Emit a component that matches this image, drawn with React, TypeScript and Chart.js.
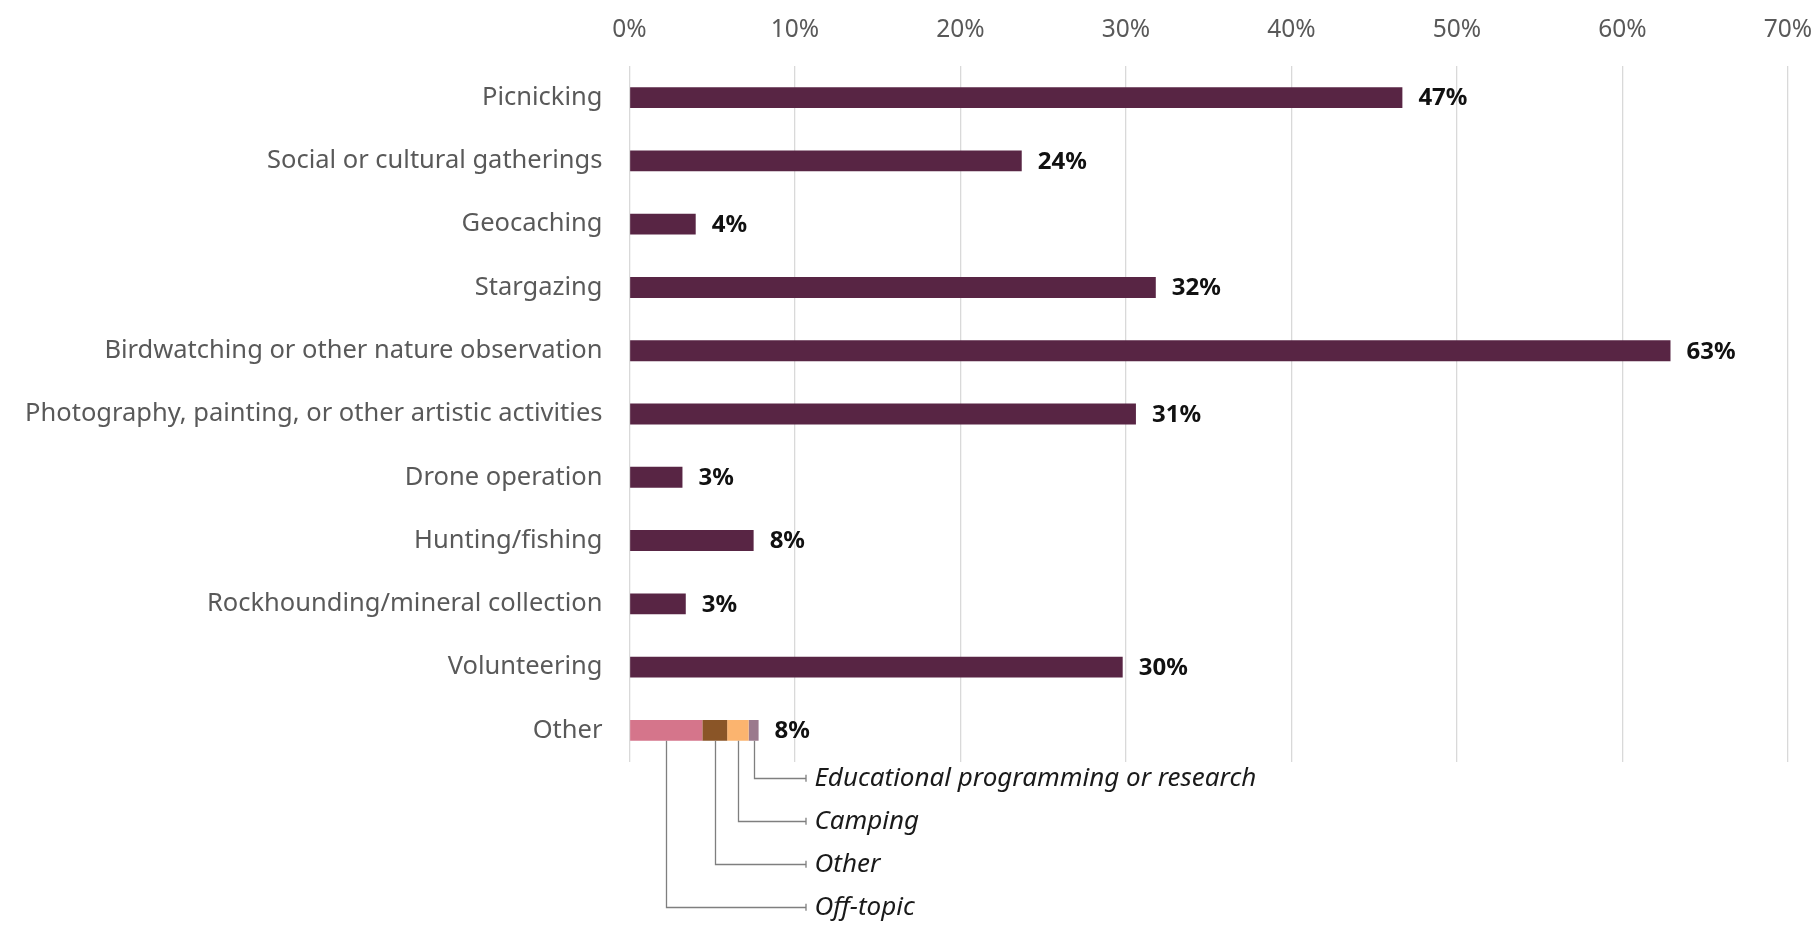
import React, { useEffect, useRef } from "react";
import { Chart, registerables } from "chart.js";

Chart.register(...registerables);

const categories = [
  "Picnicking",
  "Social or cultural gatherings",
  "Geocaching",
  "Stargazing",
  "Birdwatching or other nature observation",
  "Photography, painting, or other artistic activities",
  "Drone operation",
  "Hunting/fishing",
  "Rockhounding/mineral collection",
  "Volunteering",
  "Other",
];

// main series (percent); the "Other" row is broken down below
const mainValues: (number | null)[] = [46.7, 23.7, 4.0, 31.8, 62.9, 30.6, 3.2, 7.5, 3.4, 29.8, null];

const otherBreakdownNames = ["Off-topic", "Other", "Camping", "Educational programming or research"];
const otherBreakdownValues = [4.4, 1.5, 1.3, 0.6];
const otherBreakdownColors = ["#D5758B", "#8A5527", "#FBB46F", "#9B7A8D"];

const xTicks = [0, 10, 20, 30, 40, 50, 60, 70];

const MAIN_COLOR = "#582544";
const FONT = "'Noto Sans', 'Open Sans', sans-serif";

export default function App() {
  const ref = useRef<HTMLCanvasElement | null>(null);

  useEffect(() => {
    if (!ref.current) return;
    const otherIdx = categories.length - 1;

    const datasets: any[] = [
      {
        label: "Share",
        data: mainValues,
        backgroundColor: MAIN_COLOR,
        barPercentage: 0.33,
        categoryPercentage: 1,
      },
      ...otherBreakdownNames.map((name, i) => ({
        label: name,
        data: categories.map((_, j) => (j === otherIdx ? otherBreakdownValues[i] : null)),
        backgroundColor: otherBreakdownColors[i],
        barPercentage: 0.33,
        categoryPercentage: 1,
      })),
    ];

    const valueLabelPlugin = {
      id: "valueLabels",
      afterDatasetsDraw(chart: any) {
        const ctx = chart.ctx;
        const xs = chart.scales.x;
        const ys = chart.scales.y;
        ctx.save();
        ctx.font = `bold 24px ${FONT}`;
        ctx.fillStyle = "#111111";
        ctx.textAlign = "left";
        ctx.textBaseline = "middle";
        categories.forEach((_, j) => {
          let total = 0;
          chart.data.datasets.forEach((ds: any) => {
            const v = ds.data[j];
            if (v != null) total += v;
          });
          const x = xs.getPixelForValue(total) + 16;
          const y = ys.getPixelForValue(j) + 1;
          ctx.fillText(`${Math.round(total)}%`, x, y);
        });

        // leader-line annotations for the Other breakdown
        const rowGap = 43;
        const firstOffset = 37;
        const endX = chart.chartArea.left + 176;
        ctx.strokeStyle = "#7F7F7F";
        ctx.lineWidth = 1.3;
        ctx.font = `italic 26px ${FONT}`;
        ctx.fillStyle = "#1A1A1A";
        const n = otherBreakdownNames.length;
        for (let i = 0; i < n; i++) {
          const meta = chart.getDatasetMeta(i + 1);
          const el = meta.data[otherIdx];
          if (!el) continue;
          const cx = (el.x + el.base) / 2;
          const bottom = el.y + el.height / 2;
          const rank = n - 1 - i;
          const ly = bottom + firstOffset + rank * rowGap;
          ctx.beginPath();
          ctx.moveTo(Math.round(cx) + 0.5, bottom);
          ctx.lineTo(Math.round(cx) + 0.5, Math.round(ly) + 0.5);
          ctx.lineTo(endX, Math.round(ly) + 0.5);
          ctx.moveTo(endX + 0.5, ly - 3);
          ctx.lineTo(endX + 0.5, ly + 4);
          ctx.stroke();
          ctx.fillText(otherBreakdownNames[i], endX + 9, ly + 1);
        }
        ctx.restore();
      },
    };

    const chart = new Chart(ref.current, {
      type: "bar",
      data: { labels: categories, datasets },
      plugins: [valueLabelPlugin],
      options: {
        indexAxis: "y",
        animation: false,
        responsive: false,
        maintainAspectRatio: false,
        layout: { padding: { top: 0, left: 0, right: 23, bottom: 172 } },
        plugins: { legend: { display: false }, tooltip: { enabled: false } },
        scales: {
          x: {
            position: "top",
            stacked: true,
            min: 0,
            max: 70,
            afterBuildTicks(scale: any) {
              scale.ticks = xTicks.map((v) => ({ value: v }));
            },
            afterFit(scale: any) {
              scale.height = 66;
              scale.paddingLeft = 0;
              scale.paddingRight = 0;
            },
            grid: { color: "#D9D9D9", lineWidth: 1.3, drawTicks: false },
            border: { display: false },
            ticks: {
              padding: 21,
              color: "#595959",
              font: { family: FONT, size: 24.5 },
              callback: (v: any) => `${v}%`,
            },
          },
          y: {
            stacked: true,
            afterFit(scale: any) {
              scale.width = 629.5;
              scale.paddingTop = 0;
              scale.paddingBottom = 0;
            },
            grid: { display: false, drawTicks: false },
            border: { display: false },
            ticks: {
              padding: 27,
              color: "#595959",
              font: { family: FONT, size: 25.5 },
            },
          },
        },
      },
    });
    return () => chart.destroy();
  }, []);

  return (
    <div style={{ position: "fixed", left: 0, top: 0, width: 1811, height: 934, background: "#fff" }}>
      <canvas ref={ref} width={1811} height={934} style={{ width: 1811, height: 934, display: "block" }} />
    </div>
  );
}
